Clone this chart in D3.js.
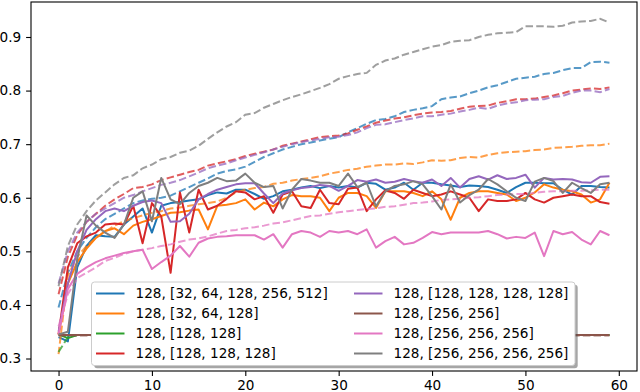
<!DOCTYPE html>
<html lang="en">
<head>
  <meta charset="UTF-8">
  <title>training curves</title>
  <style>
    body { margin: 0; background: #fff; }
    svg text { font-family: "DejaVu Sans", sans-serif; }
  </style>
</head>
<body>
  <div class="chart"></div>
  <script src="https://cdnjs.cloudflare.com/ajax/libs/d3/7.8.5/d3.min.js"></script>
  <script>
    // legend labels, in plotting order
    const labels = [
      "128, [32, 64, 128, 256, 512]",
      "128, [32, 64, 128]",
      "128, [128, 128]",
      "128, [128, 128, 128]",
      "128, [128, 128, 128, 128]",
      "128, [256, 256]",
      "128, [256, 256, 256]",
      "128, [256, 256, 256, 256]"
    ];
    const colors = ["#1f77b4", "#ff7f0e", "#2ca02c", "#d62728", "#9467bd", "#8c564b", "#e377c2", "#7f7f7f"];
    const xTicks = [0, 10, 20, 30, 40, 50, 60];
    const yTicks = [0.3, 0.4, 0.5, 0.6, 0.7, 0.8, 0.9];

    // solid curves (one value per epoch)
    const blueSolid = [0.340,0.332,0.470,0.510,0.530,0.528,0.527,0.550,0.565,0.580,
      0.535,0.585,0.590,0.592,0.595,0.597,0.605,0.610,0.608,0.615,
      0.615,0.607,0.598,0.603,0.612,0.615,0.619,0.622,0.618,0.622,
      0.619,0.622,0.619,0.628,0.626,0.615,0.619,0.628,0.615,0.628,
      0.628,0.625,0.623,0.620,0.623,0.622,0.620,0.615,0.609,0.620,
      0.628,0.628,0.627,0.627,0.615,0.606,0.622,0.622,0.620,0.619];
    const orangeSolid = [0.345,0.440,0.480,0.505,0.525,0.538,0.543,0.532,0.548,0.555,
      0.560,0.566,0.572,0.573,0.576,0.578,0.541,0.585,0.587,0.590,
      0.597,0.578,0.591,0.584,0.597,0.605,0.603,0.603,0.600,0.575,
      0.600,0.609,0.609,0.603,0.581,0.612,0.612,0.612,0.609,0.603,
      0.612,0.597,0.559,0.600,0.609,0.612,0.612,0.609,0.606,0.594,
      0.600,0.610,0.625,0.619,0.615,0.612,0.606,0.591,0.597,0.628];
    const greenSolid = [0.345,0.338,0.344,0.344,0.344,0.344,0.344,0.344,0.344,0.344,
      0.344,0.344,0.344,0.344,0.344,0.344,0.344,0.344,0.344,0.344,
      0.344,0.344,0.344,0.344,0.344,0.344,0.344,0.344,0.344,0.344,
      0.344,0.344,0.344,0.344,0.344,0.344,0.344,0.344,0.344,0.344,
      0.344,0.344,0.344,0.344,0.344,0.344,0.344,0.344,0.344,0.344,
      0.344,0.344,0.344,0.344,0.344,0.344,0.344,0.344,0.344,0.344];
    const redSolid = [0.345,0.470,0.515,0.528,0.535,0.550,0.552,0.550,0.585,0.515,
      0.590,0.565,0.460,0.610,0.535,0.615,0.578,0.585,0.598,0.612,
      0.610,0.597,0.603,0.572,0.606,0.612,0.584,0.581,0.615,0.590,
      0.588,0.617,0.619,0.575,0.597,0.614,0.609,0.598,0.615,0.609,
      0.603,0.606,0.612,0.606,0.600,0.575,0.597,0.594,0.594,0.597,
      0.609,0.597,0.591,0.600,0.603,0.606,0.603,0.603,0.592,0.589];
    const purpleSolid = [0.350,0.440,0.500,0.540,0.560,0.575,0.580,0.575,0.585,0.592,
      0.595,0.590,0.555,0.556,0.570,0.597,0.607,0.615,0.620,0.625,
      0.627,0.627,0.608,0.590,0.608,0.614,0.618,0.620,0.624,0.622,
      0.613,0.622,0.633,0.630,0.634,0.628,0.630,0.635,0.631,0.628,
      0.634,0.622,0.637,0.619,0.635,0.640,0.634,0.642,0.635,0.637,
      0.643,0.619,0.637,0.634,0.635,0.634,0.629,0.628,0.639,0.640];
    const brownSolid = [0.344,0.344,0.344,0.344,0.344,0.344,0.344,0.344,0.344,0.344,
      0.344,0.344,0.344,0.344,0.344,0.344,0.344,0.344,0.344,0.344,
      0.344,0.344,0.344,0.344,0.344,0.344,0.344,0.344,0.344,0.344,
      0.344,0.344,0.344,0.344,0.344,0.344,0.344,0.344,0.344,0.344,
      0.344,0.344,0.344,0.344,0.344,0.344,0.344,0.344,0.344,0.344,
      0.344,0.344,0.344,0.344,0.344,0.344,0.344,0.344,0.344,0.344];
    const pinkSolid = [0.345,0.430,0.458,0.470,0.480,0.487,0.492,0.497,0.500,0.503,
      0.467,0.480,0.492,0.510,0.490,0.516,0.524,0.527,0.528,0.530,
      0.530,0.530,0.522,0.532,0.507,0.532,0.538,0.535,0.527,0.538,
      0.535,0.538,0.532,0.541,0.507,0.519,0.527,0.513,0.516,0.525,
      0.536,0.532,0.535,0.535,0.535,0.535,0.538,0.532,0.524,0.527,
      0.525,0.535,0.491,0.538,0.532,0.536,0.522,0.513,0.538,0.530];
    const graySolid = [0.345,0.350,0.485,0.567,0.548,0.535,0.525,0.550,0.600,0.612,
      0.556,0.637,0.597,0.588,0.609,0.622,0.628,0.637,0.631,0.632,
      0.645,0.628,0.620,0.622,0.580,0.615,0.635,0.632,0.628,0.628,
      0.622,0.645,0.620,0.628,0.584,0.612,0.622,0.625,0.631,0.625,
      0.603,0.578,0.625,0.591,0.605,0.615,0.635,0.625,0.612,0.600,
      0.594,0.630,0.637,0.631,0.609,0.628,0.618,0.609,0.625,0.628];

    // dashed curves
    const blueDashed = [0.395,0.460,0.500,0.525,0.545,0.560,0.570,0.580,0.590,0.595,
      0.598,0.600,0.604,0.612,0.620,0.628,0.636,0.645,0.650,0.653,
      0.658,0.667,0.676,0.683,0.690,0.695,0.700,0.703,0.707,0.710,
      0.713,0.722,0.730,0.738,0.745,0.747,0.752,0.760,0.764,0.767,
      0.771,0.784,0.787,0.789,0.795,0.800,0.806,0.810,0.816,0.822,
      0.824,0.826,0.831,0.833,0.838,0.842,0.842,0.853,0.854,0.852];
    const orangeDashed = [0.308,0.455,0.490,0.510,0.525,0.537,0.548,0.556,0.562,0.567,
      0.572,0.575,0.580,0.582,0.585,0.588,0.590,0.593,0.600,0.610,
      0.615,0.618,0.620,0.626,0.628,0.632,0.635,0.637,0.640,0.645,
      0.648,0.652,0.654,0.658,0.660,0.662,0.662,0.664,0.663,0.666,
      0.670,0.669,0.670,0.674,0.676,0.675,0.680,0.683,0.685,0.686,
      0.687,0.689,0.690,0.693,0.694,0.695,0.697,0.698,0.698,0.701];
    const greenDashed = [0.312,0.340,0.344,0.344,0.344,0.344,0.344,0.344,0.344,0.344,
      0.344,0.344,0.344,0.344,0.344,0.344,0.344,0.344,0.344,0.344,
      0.344,0.344,0.344,0.344,0.344,0.344,0.344,0.344,0.344,0.344,
      0.344,0.344,0.344,0.344,0.344,0.344,0.344,0.344,0.344,0.344,
      0.344,0.344,0.344,0.344,0.344,0.344,0.344,0.344,0.344,0.344,
      0.344,0.344,0.344,0.344,0.344,0.344,0.344,0.344,0.344,0.344];
    const redDashed = [0.420,0.490,0.530,0.555,0.570,0.585,0.597,0.607,0.618,0.620,
      0.625,0.633,0.638,0.643,0.648,0.652,0.660,0.664,0.668,0.672,
      0.678,0.682,0.686,0.690,0.697,0.701,0.705,0.709,0.713,0.715,
      0.716,0.720,0.727,0.733,0.740,0.744,0.748,0.750,0.754,0.757,
      0.759,0.760,0.762,0.766,0.770,0.771,0.772,0.777,0.780,0.784,
      0.784,0.785,0.788,0.791,0.795,0.800,0.802,0.804,0.803,0.806];
    const purpleDashed = [0.440,0.500,0.535,0.555,0.570,0.580,0.590,0.600,0.605,0.612,
      0.618,0.624,0.628,0.633,0.640,0.647,0.655,0.660,0.664,0.670,
      0.675,0.680,0.685,0.690,0.695,0.700,0.704,0.707,0.710,0.713,
      0.714,0.717,0.722,0.730,0.736,0.737,0.741,0.745,0.748,0.752,
      0.752,0.755,0.757,0.761,0.764,0.768,0.766,0.772,0.776,0.778,
      0.782,0.783,0.784,0.788,0.790,0.796,0.800,0.800,0.797,0.803];
    const brownDashed = [0.343,0.343,0.343,0.343,0.343,0.343,0.343,0.343,0.343,0.343,
      0.343,0.343,0.343,0.343,0.343,0.343,0.343,0.343,0.343,0.343,
      0.343,0.343,0.343,0.343,0.343,0.343,0.343,0.343,0.343,0.343,
      0.343,0.343,0.343,0.343,0.343,0.343,0.343,0.343,0.343,0.343,
      0.343,0.343,0.343,0.343,0.343,0.343,0.343,0.343,0.343,0.343,
      0.343,0.343,0.343,0.343,0.343,0.343,0.343,0.343,0.343,0.343];
    const pinkDashed = [0.360,0.420,0.450,0.460,0.470,0.482,0.488,0.495,0.500,0.503,
      0.506,0.510,0.513,0.518,0.522,0.524,0.528,0.533,0.538,0.540,
      0.543,0.545,0.548,0.552,0.554,0.558,0.562,0.566,0.567,0.570,
      0.573,0.575,0.577,0.579,0.580,0.583,0.584,0.587,0.590,0.591,
      0.593,0.596,0.597,0.598,0.600,0.601,0.603,0.605,0.606,0.607,
      0.607,0.609,0.611,0.612,0.612,0.613,0.613,0.614,0.615,0.615];
    const grayDashed = [0.435,0.510,0.550,0.575,0.595,0.610,0.625,0.637,0.642,0.655,
      0.662,0.672,0.676,0.684,0.688,0.697,0.710,0.722,0.733,0.741,
      0.755,0.758,0.768,0.775,0.782,0.788,0.793,0.799,0.805,0.812,
      0.822,0.827,0.831,0.833,0.848,0.856,0.860,0.867,0.872,0.877,
      0.882,0.885,0.891,0.893,0.894,0.900,0.904,0.907,0.908,0.909,
      0.920,0.920,0.920,0.919,0.921,0.927,0.929,0.930,0.934,0.927];

    const solids = [blueSolid, orangeSolid, greenSolid, redSolid, purpleSolid, brownSolid, pinkSolid, graySolid];
    const dashes = [blueDashed, orangeDashed, greenDashed, redDashed, purpleDashed, brownDashed, pinkDashed, grayDashed];

    const width = 640, height = 392;
    const frame = { left: 31, right: 637, top: 2, bottom: 371 };
    const fontSize = 13.6;

    // matplotlib-style 5% padding around the data
    const nPts = blueSolid.length;
    const allVals = solids.concat(dashes).flat();
    const [yLo, yHi] = d3.extent(allVals);
    const yPad = (yHi - yLo) * 0.05;
    const xPad = (nPts - 1) * 0.05;

    const x = d3.scaleLinear().domain([-xPad, nPts - 1 + xPad]).range([frame.left, frame.right]);
    const y = d3.scaleLinear().domain([yLo - yPad, yHi + yPad]).range([frame.bottom, frame.top]);

    const svg = d3.select('.chart').append('svg')
      .attr('width', width)
      .attr('height', height);

    svg.append('clipPath').attr('id', 'plot-clip')
      .append('rect')
      .attr('x', frame.left).attr('y', frame.top)
      .attr('width', frame.right - frame.left)
      .attr('height', frame.bottom - frame.top);

    const line = d3.line()
      .x((v, i) => x(i))
      .y(v => y(v));

    const plot = svg.append('g').attr('clip-path', 'url(#plot-clip)');
    colors.forEach((c, k) => {
      plot.append('path')
        .datum(solids[k])
        .attr('d', line)
        .attr('fill', 'none')
        .attr('stroke', c)
        .attr('stroke-width', 2)
        .attr('stroke-linejoin', 'round');
      plot.append('path')
        .datum(dashes[k])
        .attr('d', line)
        .attr('fill', 'none')
        .attr('stroke', c)
        .attr('stroke-width', 2)
        .attr('stroke-opacity', 0.75)
        .attr('stroke-dasharray', '7.5,3.2');
    });

    // axes
    const xAxis = d3.axisBottom(x).tickValues(xTicks).tickSize(4.9).tickPadding(4).tickFormat(d3.format('d'));
    const yAxis = d3.axisLeft(y).tickValues(yTicks).tickSize(4.9).tickPadding(4.9).tickFormat(d3.format('.1f'));

    const gx = svg.append('g').attr('transform', `translate(0,${frame.bottom})`).call(xAxis);
    const gy = svg.append('g').attr('transform', `translate(${frame.left},0)`).call(yAxis);
    [gx, gy].forEach(g => {
      g.select('.domain').remove();
      g.selectAll('line').attr('stroke', '#000').attr('stroke-width', 1.1);
      g.selectAll('text')
        .attr('fill', '#000')
        .style('font-size', fontSize + 'px')
        .style('font-family', '"DejaVu Sans", sans-serif');
    });

    svg.append('rect')
      .attr('x', frame.left).attr('y', frame.top)
      .attr('width', frame.right - frame.left)
      .attr('height', frame.bottom - frame.top)
      .attr('fill', 'none')
      .attr('stroke', '#000')
      .attr('stroke-width', 1.1);

    // legend with shadow, two columns
    const lg = { x: 91.5, y: 282, w: 483.5, h: 83.5 };
    const legend = svg.append('g');
    legend.append('rect')
      .attr('x', lg.x + 2.7).attr('y', lg.y + 2.7)
      .attr('width', lg.w).attr('height', lg.h)
      .attr('rx', 3)
      .attr('fill', '#4d4d4d').attr('fill-opacity', 0.5);
    legend.append('rect')
      .attr('x', lg.x).attr('y', lg.y)
      .attr('width', lg.w).attr('height', lg.h)
      .attr('rx', 3)
      .attr('fill', '#fff')
      .attr('stroke', '#cccccc')
      .attr('stroke-width', 1);

    const colX = [96, 354];
    labels.forEach((label, k) => {
      const col = Math.floor(k / 4), row = k % 4;
      const cy = 293.5 + row * 20;
      const item = legend.append('g').attr('transform', `translate(${colX[col]},${cy})`);
      item.append('line')
        .attr('x1', 0).attr('x2', 28.5)
        .attr('stroke', colors[k]).attr('stroke-width', 2);
      item.append('text')
        .attr('x', 39.5)
        .attr('dy', '0.36em')
        .style('font-size', fontSize + 'px')
        .text(label);
    });
  </script>
</body>
</html>
